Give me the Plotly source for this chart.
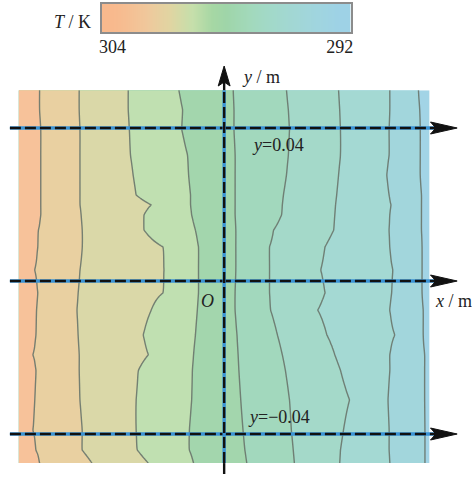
import numpy as np
import plotly.graph_objects as go

# ---------------------------------------------------------------
# Temperature field on a plate: isotherm positions sampled on rows
# ---------------------------------------------------------------
row_y_mm = [49.9, 44.7, 39.5, 32.9, 27.7, 22.5, 19.9, 17.3, 13.3, 8.9,
            2.9, -3.1, -7.6, -14.1, -19.3, -23.3, -31.1, -39.0, -44.2, -47.6]

iso_levels = [302.8, 301.6, 300.4, 299.2, 298.0, 296.8, 295.6, 294.4, 293.2]

iso_302_8 = [-48.9, -48.9, -48.6, -48.6, -48.6, -48.6, -48.6, -48.6, -49.2, -49.4,
             -50.2, -49.4, -49.7, -49.9, -50.7, -49.9, -50.2, -50.7, -49.9, -48.9]
iso_301_6 = [-38.4, -38.4, -38.2, -38.2, -38.2, -38.2, -38.2, -37.9, -37.6, -37.6,
             -38.2, -38.7, -39.0, -38.7, -38.4, -38.4, -38.2, -37.6, -37.6, -35.0]
iso_300_4 = [-25.4, -25.4, -25.1, -24.8, -24.1, -23.3, -19.3, -21.2, -21.2, -16.2,
             -15.9, -16.2, -19.3, -21.4, -20.1, -22.7, -23.3, -23.3, -23.0, -20.1]
iso_299_2 = [-12.0, -11.0, -11.2, -9.7, -9.4, -8.9, -8.9, -8.6, -7.6, -6.8,
             -6.8, -6.8, -7.1, -7.6, -8.1, -8.4, -8.6, -9.2, -9.2, -8.1]
iso_298_0 = [2.4, 2.6, 2.6, 2.9, 2.9, 2.9, 2.9, 2.9, 3.1, 3.1,
             3.1, 2.9, 2.9, 3.4, 3.7, 3.9, 4.4, 5.0, 5.5, 6.0]
iso_296_8 = [16.5, 17.0, 17.3, 17.0, 16.5, 15.7, 15.4, 15.2, 13.1, 12.0,
             12.0, 12.0, 12.3, 14.1, 15.4, 16.2, 17.3, 17.8, 18.3, 18.6]
iso_295_6 = [30.3, 30.6, 30.8, 30.8, 30.3, 29.8, 29.5, 29.3, 29.0, 26.7,
             25.6, 26.7, 24.8, 27.2, 29.3, 30.8, 33.2, 31.6, 30.8, 30.6]
iso_294_4 = [43.9, 43.9, 43.7, 43.7, 43.1, 43.7, 44.2, 43.9, 43.7, 43.9,
             44.7, 44.4, 43.9, 45.2, 43.9, 43.9, 43.4, 43.7, 43.7, 43.9]
iso_293_2 = [51.5, 51.8, 52.0, 52.0, 52.0, 52.3, 52.3, 52.3, 52.3, 52.5,
             52.5, 52.5, 52.8, 52.8, 53.1, 53.1, 53.1, 53.3, 53.3, 53.3]

iso_x_mm = [iso_302_8, iso_301_6, iso_300_4, iso_299_2, iso_298_0,
            iso_296_8, iso_295_6, iso_294_4, iso_293_2]

T_hot, T_cold = 304.0, 292.0
plate_x_mm = [-54.4, 54.4]

# reference lines and colour bar ticks
guide_y = [0.04, 0.0, -0.04]
guide_labels = ["<i>y</i>=0.04", None, "<i>y</i>=\u22120.04"]
cbar_ticks = [304, 292]

# ---------------------------------------------------------------
# geometry of the drawing (metres <-> screen)
# ---------------------------------------------------------------
W, H = 472, 478
SCALE = 3825.0            # screen px per metre
OX, OY = 224.0, 281.0     # screen position of the origin

def m(px):                # screen length -> metres
    return px / SCALE

x_range = [-OX / SCALE, (W - OX) / SCALE]
y_range = [(OY - H) / SCALE, OY / SCALE]

# build the field row by row
xg_mm = np.linspace(plate_x_mm[0], plate_x_mm[1], 420)
order = np.argsort(row_y_mm)
z = []
for i in order:
    xp = [plate_x_mm[0]] + [iso[i] for iso in iso_x_mm] + [plate_x_mm[1]]
    fp = [T_hot] + iso_levels + [T_cold]
    z.append(np.interp(xg_mm, xp, fp))
z = np.array(z)
yg = np.array(row_y_mm)[order] / 1000.0
xg = xg_mm / 1000.0

# band fill colours, coldest band first
band_colors = ["#a2d4e6", "#a2d6dc", "#a4d9d3", "#a4d9c9", "#a2d8bd",
               "#a3d6ad", "#c0e0b1", "#dad8a8", "#e9d0a1", "#f7c29a"]
band_scale = [[k / (len(band_colors) - 1), c] for k, c in enumerate(band_colors)]

# continuous scale for the colour bar
bar_scale = [
    [0.00, "#9ed2e6"],
    [0.10, "#a0d5df"],
    [0.20, "#a2d7d5"],
    [0.30, "#a2d9ca"],
    [0.40, "#a2d9bb"],
    [0.50, "#9fd5a9"],
    [0.56, "#a6d7a4"],
    [0.65, "#c6dfab"],
    [0.75, "#e1d5a2"],
    [0.85, "#f0c89c"],
    [0.95, "#f6bd91"],
    [1.00, "#f8b98d"],
]

fig = go.Figure()

fig.add_trace(go.Contour(
    x=xg, y=yg, z=z,
    colorscale=band_scale,
    showscale=False,
    contours=dict(start=min(iso_levels), end=max(iso_levels),
                  size=round(iso_levels[0] - iso_levels[1], 3),
                  coloring="fill"),
    line=dict(color="rgba(105,118,108,0.9)", width=1.4, smoothing=0.9),
    hoverinfo="skip",
))

# ---------------------------------------------------------------
# dashed guide lines y = const, with arrowheads
# ---------------------------------------------------------------
BLUE = "#3b93d4"
INK = "#111111"
h_start = m(7 - OX)
h_tip = m(460 - OX)

def arrow_head(tip_x, tip_y, dx, dy, length, half):
    """Slim arrowhead polygon pointing along (dx, dy)."""
    px_, py_ = -dy, dx
    base_x, base_y = tip_x - dx * length, tip_y - dy * length
    notch_x, notch_y = tip_x - dx * length * 0.8, tip_y - dy * length * 0.8
    xs = [tip_x, base_x + px_ * half, notch_x, base_x - px_ * half, tip_x]
    ys = [tip_y, base_y + py_ * half, notch_y, base_y - py_ * half, tip_y]
    return xs, ys

def dashed_axis(xs, ys):
    fig.add_trace(go.Scatter(x=xs, y=ys, mode="lines",
                             line=dict(color=BLUE, width=3.4),
                             hoverinfo="skip", showlegend=False))
    fig.add_trace(go.Scatter(x=xs, y=ys, mode="lines",
                             line=dict(color=INK, width=2.4, dash="11px,4px"),
                             hoverinfo="skip", showlegend=False))

def head(xs, ys):
    fig.add_trace(go.Scatter(x=xs, y=ys, mode="lines", fill="toself",
                             fillcolor=INK, line=dict(color=INK, width=1),
                             hoverinfo="skip", showlegend=False))

h_len, h_half = m(27), m(6)
for yv in guide_y:
    dashed_axis([h_start, h_tip - h_len * 0.8], [yv, yv])
    head(*arrow_head(h_tip, yv, 1, 0, h_len, h_half))

# vertical axis x = 0
plate_top = max(row_y_mm) / 1000.0
plate_bot = min(row_y_mm) / 1000.0
v_bottom = m(OY - 474)
v_tip = m(OY - 66)
v_len, v_half = m(20), m(6)
dashed_axis([0, 0], [plate_bot, plate_top])
for seg in ([v_bottom, plate_bot], [plate_top, v_tip - v_len * 0.8]):
    fig.add_trace(go.Scatter(x=[0, 0], y=seg, mode="lines",
                             line=dict(color=INK, width=2.4),
                             hoverinfo="skip", showlegend=False))
head(*arrow_head(0, v_tip, 0, 1, v_len, v_half))

# ---------------------------------------------------------------
# colour bar (304 on the left, 292 on the right)
# ---------------------------------------------------------------
cb_lo, cb_hi = 291.43, 304.57
cb_x = np.linspace(cb_lo, cb_hi, 240)
fig.add_trace(go.Heatmap(
    x=cb_x, y=[0, 1], z=[cb_x, cb_x],
    zmin=T_cold, zmax=T_hot, colorscale=bar_scale,
    zsmooth="best", showscale=False, hoverinfo="skip",
    xaxis="x2", yaxis="y2",
))

SERIF = "Liberation Serif, Times New Roman, serif"
TXT = dict(family=SERIF, size=18, color="#222")

annotations = [
    dict(text="<i>T</i> / K", x=91 / W, y=1 - 22 / H, xref="paper", yref="paper",
         xanchor="right", yanchor="middle", showarrow=False, font=TXT),
    dict(text="<i>y</i> / m", x=m(240 - OX), y=m(OY - 77), xref="x", yref="y",
         xanchor="left", yanchor="middle", showarrow=False, font=TXT),
    dict(text="<i>x</i> / m", x=m(436 - OX), y=-m(20), xref="x", yref="y",
         xanchor="left", yanchor="middle", showarrow=False, font=TXT),
    dict(text="<i>O</i>", x=m(207 - OX), y=-m(20), xref="x", yref="y",
         xanchor="center", yanchor="middle", showarrow=False, font=TXT),
]
for yv, lab in zip(guide_y, guide_labels):
    if lab is None:
        continue
    off = -m(17) if yv > 0 else m(17)
    cx = m(279 - OX) if yv > 0 else m(280 - OX)
    annotations.append(dict(text=lab, x=cx, y=yv + off, xref="x", yref="y",
                            xanchor="center", yanchor="middle", showarrow=False,
                            font=TXT))

fig.update_layout(
    width=W, height=H,
    margin=dict(l=0, r=0, t=0, b=0),
    paper_bgcolor="white", plot_bgcolor="rgba(0,0,0,0)",
    showlegend=False,
    xaxis=dict(range=x_range, domain=[0, 1], visible=False, fixedrange=True),
    yaxis=dict(range=y_range, domain=[0, 1], visible=False, fixedrange=True),
    xaxis2=dict(range=[cb_hi, cb_lo], domain=[100 / W, 352 / W], anchor="y2",
                tickvals=cbar_ticks, ticktext=[str(t) for t in cbar_ticks],
                ticks="", showgrid=False, zeroline=False,
                showline=True, mirror=True, linecolor="#8c8c8c", linewidth=1.5,
                tickfont=TXT, ticklabelstandoff=-2, fixedrange=True),
    yaxis2=dict(range=[0, 1], domain=[1 - 32 / H, 1 - 4 / H], anchor="x2",
                showticklabels=False, ticks="", showgrid=False, zeroline=False,
                showline=True, mirror=True, linecolor="#8c8c8c", linewidth=1.5,
                fixedrange=True),
    annotations=annotations,
)

fig.write_html("out.html")
